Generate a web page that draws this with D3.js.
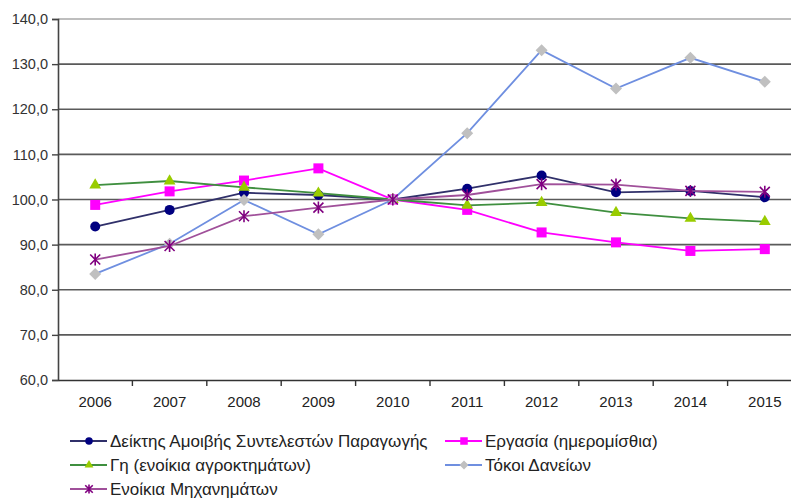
<!DOCTYPE html>
<html><head><meta charset="utf-8">
<script src="https://cdn.jsdelivr.net/npm/d3@7"></script>
<style>html,body{margin:0;padding:0;background:#fff;overflow:hidden}svg{display:block}text{font-family:"Liberation Sans",Arial,sans-serif}</style>
</head><body>
<svg id="c" width="791" height="502"></svg>
<script>
const years = ["2006","2007","2008","2009","2010","2011","2012","2013","2014","2015"];
const yTicks = [60,70,80,90,100,110,120,130,140];
const seriesNames = ["Δείκτης  Αμοιβής Συντελεστών Παραγωγής","Εργασία (ημερομίσθια)","Γη (ενοίκια αγροκτημάτων)","Τόκοι Δανείων","Ενοίκια Μηχανημάτων"];
const indexValues = [94.0,97.7,101.5,101.0,100.0,102.4,105.3,101.6,101.9,100.5];
const labourValues = [98.8,101.8,104.2,106.9,100.0,97.7,92.7,90.5,88.6,89.0];
const landValues = [103.2,104.1,102.7,101.4,100.0,98.7,99.3,97.1,95.8,95.1];
const interestValues = [83.5,90.2,99.9,92.3,100.0,114.7,133.1,124.6,131.4,126.1];
const machineryValues = [86.7,89.7,96.3,98.2,100.0,101.0,103.4,103.3,101.9,101.7];

const series = [
  {name: seriesNames[0], values: indexValues, line: "#30306a", fill: "#000080", shape: "circle"},
  {name: seriesNames[1], values: labourValues, line: "#ff00ff", fill: "#ff00ff", shape: "square"},
  {name: seriesNames[2], values: landValues, line: "#3f8f3f", fill: "#99cc00", shape: "triangle"},
  {name: seriesNames[3], values: interestValues, line: "#6f8fe0", fill: "#c0c0c0", shape: "diamond"},
  {name: seriesNames[4], values: machineryValues, line: "#a0509a", fill: "#800080", shape: "star"}
];

const svg = d3.select("#c");
const mLeft = 58, mRight = 802, mTop = 19, mBottom = 380;
const x = d3.scaleBand().domain(years).range([mLeft, mRight]).padding(0);
const y = d3.scaleLinear().domain([60,140]).range([mBottom, mTop]);

// gridlines
svg.append("g").selectAll("line").data(yTicks.filter(d => d > 60)).join("line")
  .attr("x1", mLeft).attr("x2", 791).attr("y1", d => y(d)).attr("y2", d => y(d))
  .attr("stroke", d => d === 140 ? "#a8a8a8" : "#5a5a5a").attr("stroke-width", 1.6);

// y axis
const yAxis = d3.axisLeft(y).tickValues(yTicks).tickSize(6).tickPadding(4)
  .tickFormat(d => d3.format(".1f")(d).replace(".", ","));
const ga = svg.append("g").attr("transform", `translate(${mLeft},0)`).call(yAxis);
ga.select(".domain").attr("stroke", "#444").attr("stroke-width", 1.6);
ga.selectAll(".tick line").attr("stroke", "#444").attr("stroke-width", 1.4);
ga.selectAll(".tick text").attr("fill", "#333").style("font-size", "14.5px");

// x axis
const xAxis = d3.axisBottom(x).tickSize(0).tickPadding(0);
const gx = svg.append("g").attr("transform", `translate(0,${mBottom})`).call(xAxis);
gx.select(".domain").attr("stroke", "#333").attr("stroke-width", 1.6);
gx.selectAll(".tick text").attr("fill", "#222").style("font-size", "15px").attr("dy", "0").attr("y", 27);
svg.append("g").selectAll("line").data(years).join("line")
  .attr("x1", d => x(d) + x.bandwidth()).attr("x2", d => x(d) + x.bandwidth())
  .attr("y1", mBottom).attr("y2", mBottom + 6).attr("stroke", "#333").attr("stroke-width", 1.4);

const cx = d => x(d) + x.bandwidth()/2;
const line = d3.line().x((v,i) => cx(years[i])).y(v => y(v));

function marker(g, shape, fill, px, py, s) {
  s = s || 1;
  if (shape === "circle") g.append("circle").attr("cx", px).attr("cy", py).attr("r", 5*s).attr("fill", fill);
  else if (shape === "square") g.append("rect").attr("x", px-5*s).attr("y", py-5*s).attr("width", 10*s).attr("height", 10*s).attr("fill", fill);
  else if (shape === "triangle") g.append("path").attr("d", d3.symbol(d3.symbolTriangle, 60*s*s)()).attr("transform", `translate(${px},${py})`).attr("fill", fill);
  else if (shape === "diamond") g.append("path").attr("d", `M0,${-6*s}L${6*s},0L0,${6*s}L${-6*s},0Z`).attr("transform", `translate(${px},${py})`).attr("fill", fill);
  else if (shape === "star") {
    const r = 5*s;
    g.append("path").attr("d", `M${-r},${-r}L${r},${r}M${-r},${r}L${r},${-r}M0,${-r*1.2}L0,${r*1.2}`)
      .attr("transform", `translate(${px},${py})`).attr("stroke", fill).attr("stroke-width", 1.6).attr("fill", "none");
  }
}

series.forEach(s => {
  const g = svg.append("g");
  g.append("path").attr("d", line(s.values)).attr("fill", "none").attr("stroke", s.line).attr("stroke-width", 1.8);
  s.values.forEach((v,i) => marker(g, s.shape, s.fill, cx(years[i]), y(v)));
});

// legend
const legendPos = [[70,441],[445,441],[70,465],[445,465],[70,489]];
series.forEach((s,i) => {
  const [lx, ly] = legendPos[i];
  const g = svg.append("g");
  g.append("line").attr("x1", lx).attr("x2", lx+37).attr("y1", ly).attr("y2", ly).attr("stroke", s.line).attr("stroke-width", 1.8);
  marker(g, s.shape, s.fill, lx+19, ly, 0.75);
  g.append("text").attr("x", lx+40).attr("y", ly).attr("dy", "0.35em").attr("fill", "#222").style("font-size", "17px").text(s.name);
});
</script>
</body></html>
